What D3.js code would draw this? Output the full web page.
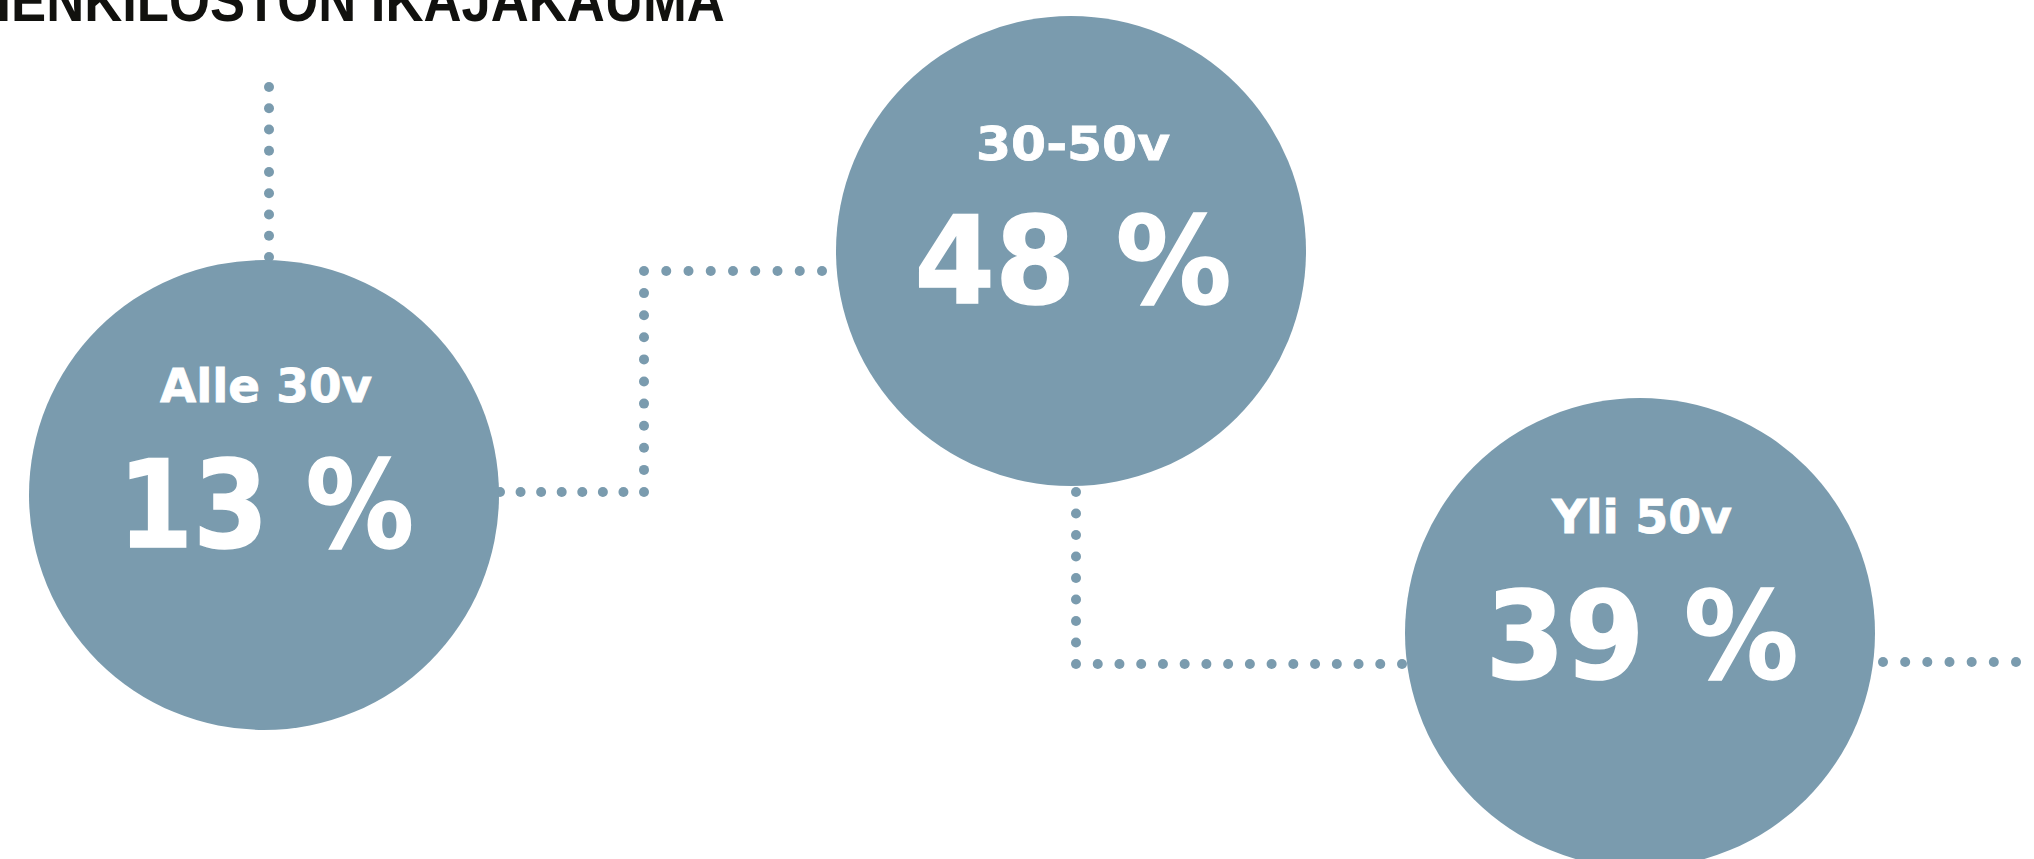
<!DOCTYPE html>
<html>
<head>
<meta charset="utf-8">
<script src="https://cdnjs.cloudflare.com/ajax/libs/d3/7.8.5/d3.min.js"></script>
<style>
    body { margin: 0; background: #ffffff; overflow: hidden; }
    text { font-family: "DejaVu Sans", "Liberation Sans", sans-serif; font-weight: bold; }
    text.title { font-family: "Liberation Sans", Arial, sans-serif; }
</style>
</head>
<body>
<svg id="canvas"></svg>
<script>

//--datasets
let title = "HENKILÖSTÖN IKÄJAKAUMA";
let ageGroups = ["Alle 30v", "30-50v", "Yli 50v"];
let shares = [13, 48, 39];
//--

//--canvas dimensions and layout (not data)
let width = 2034;
let height = 859;

let radius = 235;
let centersX = [264, 1071, 1640];
let centersY = [495, 251, 633];
let labelWidths = [212, 194, 180];
let valueWidths = [296, 317, 313];
let labelDy = [-93, -91, -100];
let valueDy = [52, 52, 45];

let connectors = [
    [[269, 87], [269, 257]],
    [[500, 492], [644, 492], [644, 271], [822, 271]],
    [[1076, 492], [1076, 664], [1402, 664]],
    [[1883, 662], [2016, 662]]
];

let circleColor = "#7a9bae";
let dotGap = 21.7;
let dotRadius = 5;
//--

let canvas = d3.select("#canvas")
canvas.attr("width", width)
canvas.attr("height", height)

//--scales: age group -> position in the picture
let xPos = d3.scaleOrdinal().domain(ageGroups).range(centersX)
let yPos = d3.scaleOrdinal().domain(ageGroups).range(centersY)
//--

// squeeze / stretch a text horizontally so it gets the wanted width
let fitWidth = (sel, target, x, y) => {
    sel.each(function (d) {
        let node = d3.select(this)
        let w = this.getComputedTextLength()
        let t = typeof target === 'function' ? target(d) : target
        let k = t / w
        let tx = typeof x === 'function' ? x(d) : x
        let ty = typeof y === 'function' ? y(d) : y
        node.attr('transform', 'translate(' + tx + ', ' + ty + ') scale(' + k + ', 1)')
    })
}

let drawChart = () => {

    let groups = ageGroups.map((name, i) => ({ name: name, share: shares[i], i: i }))

    //--dotted connectors: dots placed along each straight piece, corners included
    let dots = []
    connectors.forEach(pts => {
        for (let k = 0; k < pts.length - 1; k++) {
            let a = pts[k], b = pts[k + 1]
            let len = Math.hypot(b[0] - a[0], b[1] - a[1])
            let n = Math.max(1, Math.round(len / dotGap))
            d3.range(k === 0 ? 0 : 1, n + 1).forEach(j => {
                dots.push([a[0] + (b[0] - a[0]) * j / n, a[1] + (b[1] - a[1]) * j / n])
            })
        }
    })

    canvas.append('g')
          .selectAll('circle')
          .data(dots)
          .enter()
          .append('circle')
          .attr('cx', d => d[0])
          .attr('cy', d => d[1])
          .attr('r', dotRadius)
          .attr('fill', circleColor)

    //--circles
    let block = canvas.selectAll('g.group')
                      .data(groups)
                      .enter()
                      .append('g')
                      .attr('class', 'group')
                      .attr('transform', d => 'translate(' + xPos(d.name) + ', ' + yPos(d.name) + ')')

    block.append('circle')
         .attr('r', radius)
         .attr('fill', circleColor)

    block.append('text')
         .text(d => d.name)
         .attr('text-anchor', 'middle')
         .attr('font-size', 47)
         .attr('fill', '#ffffff')
         .attr('stroke', '#ffffff')
         .attr('stroke-width', 0.8)
         .call(fitWidth, d => labelWidths[d.i], 2, d => labelDy[d.i])

    block.append('text')
         .text(d => d.share + ' %')
         .attr('text-anchor', 'middle')
         .attr('font-size', 121)
         .attr('fill', '#ffffff')
         .attr('stroke', '#ffffff')
         .attr('stroke-width', 1.5)
         .call(fitWidth, d => valueWidths[d.i], 2, d => valueDy[d.i])

    //--title, cut off by the top edge like in the original
    canvas.append('text')
          .attr('class', 'title')
          .text(title)
          .attr('font-size', 60)
          .attr('fill', '#11110e')
          .call(fitWidth, 752, -27, 21)
}

drawChart()

</script>
</body>
</html>
